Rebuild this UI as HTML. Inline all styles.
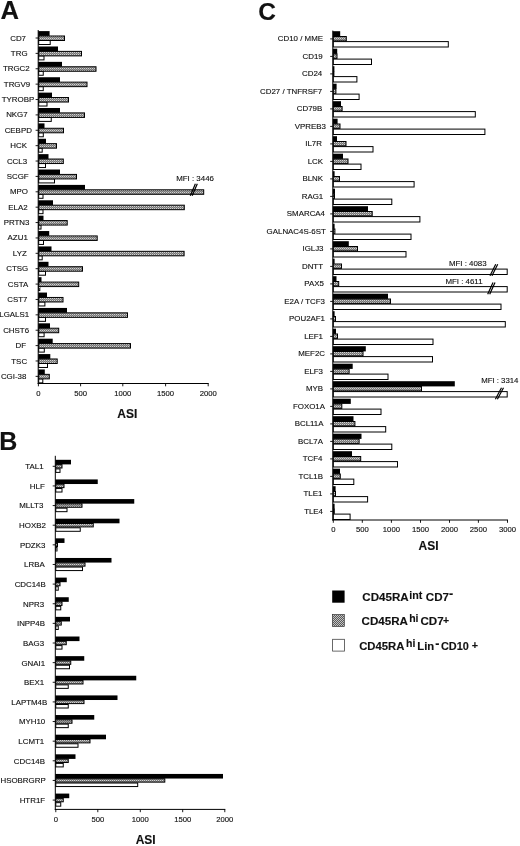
<!DOCTYPE html>
<html lang="en"><head><meta charset="utf-8"><title>Figure</title>
<style>
html,body{margin:0;padding:0;background:#fff;}
body{width:520px;height:846px;overflow:hidden;}
svg{display:block;font-family:'Liberation Sans', sans-serif;fill:#111;}
text{stroke:#111;stroke-width:0.13px;}
</style></head><body>
<svg width="520" height="846" viewBox="0 0 520 846">
<rect x="0" y="0" width="520" height="846" fill="#fff"/>
<defs><pattern id="gp" width="2" height="2" patternUnits="userSpaceOnUse"><rect width="2" height="2" fill="#767676"/><rect x="0" y="0" width="1" height="1" fill="#d2d2d2"/><rect x="1" y="1" width="1" height="1" fill="#9e9e9e"/></pattern><pattern id="gl" width="2" height="2" patternUnits="userSpaceOnUse"><rect width="2" height="2" fill="#5a5a5a"/><rect x="0" y="0" width="1" height="1" fill="#c4c4c4"/><rect x="1" y="1" width="1" height="1" fill="#c4c4c4"/></pattern></defs>
<text x="0.60" y="19.40" font-size="25.6" text-anchor="start" font-weight="bold">A</text>
<text x="-0.80" y="450.20" font-size="25" text-anchor="start" font-weight="bold">B</text>
<text x="258.30" y="19.65" font-size="24.5" text-anchor="start" font-weight="bold">C</text>
<rect x="38.70" y="40.50" width="11.50" height="4.00" fill="#fff" stroke="#000" stroke-width="1.0"/>
<rect x="38.70" y="36.00" width="25.80" height="4.50" fill="url(#gp)" stroke="#000" stroke-width="1.0"/>
<rect x="38.20" y="31.10" width="11.40" height="4.80" fill="#000"/>
<line x1="35.60" y1="38.00" x2="38.20" y2="38.00" stroke="#000" stroke-width="0.9"/>
<text x="18.10" y="40.55" font-size="7.9" text-anchor="middle">CD7</text>
<rect x="38.70" y="55.88" width="5.30" height="4.00" fill="#fff" stroke="#000" stroke-width="1.0"/>
<rect x="38.70" y="51.38" width="42.80" height="4.50" fill="url(#gp)" stroke="#000" stroke-width="1.0"/>
<rect x="38.20" y="46.48" width="19.80" height="4.80" fill="#000"/>
<line x1="35.60" y1="53.38" x2="38.20" y2="53.38" stroke="#000" stroke-width="0.9"/>
<text x="19.20" y="55.93" font-size="7.9" text-anchor="middle">TRG</text>
<rect x="38.70" y="71.26" width="4.55" height="4.00" fill="#fff" stroke="#000" stroke-width="1.0"/>
<rect x="38.70" y="66.76" width="57.30" height="4.50" fill="url(#gp)" stroke="#000" stroke-width="1.0"/>
<rect x="38.20" y="61.86" width="23.80" height="4.80" fill="#000"/>
<line x1="35.60" y1="68.76" x2="38.20" y2="68.76" stroke="#000" stroke-width="0.9"/>
<text x="16.25" y="71.31" font-size="7.9" text-anchor="middle">TRGC2</text>
<rect x="38.70" y="86.64" width="4.55" height="4.00" fill="#fff" stroke="#000" stroke-width="1.0"/>
<rect x="38.70" y="82.14" width="48.30" height="4.50" fill="url(#gp)" stroke="#000" stroke-width="1.0"/>
<rect x="38.20" y="77.24" width="21.80" height="4.80" fill="#000"/>
<line x1="35.60" y1="84.14" x2="38.20" y2="84.14" stroke="#000" stroke-width="0.9"/>
<text x="17.00" y="86.69" font-size="7.9" text-anchor="middle">TRGV9</text>
<rect x="38.70" y="102.02" width="8.30" height="4.00" fill="#fff" stroke="#000" stroke-width="1.0"/>
<rect x="38.70" y="97.52" width="29.80" height="4.50" fill="url(#gp)" stroke="#000" stroke-width="1.0"/>
<rect x="38.20" y="92.62" width="13.80" height="4.80" fill="#000"/>
<line x1="35.60" y1="99.52" x2="38.20" y2="99.52" stroke="#000" stroke-width="0.9"/>
<text x="18.00" y="102.07" font-size="7.9" text-anchor="middle">TYROBP</text>
<rect x="38.70" y="117.40" width="12.55" height="4.00" fill="#fff" stroke="#000" stroke-width="1.0"/>
<rect x="38.70" y="112.90" width="45.80" height="4.50" fill="url(#gp)" stroke="#000" stroke-width="1.0"/>
<rect x="38.20" y="108.00" width="21.80" height="4.80" fill="#000"/>
<line x1="35.60" y1="114.90" x2="38.20" y2="114.90" stroke="#000" stroke-width="0.9"/>
<text x="16.90" y="117.45" font-size="7.9" text-anchor="middle">NKG7</text>
<rect x="38.70" y="132.78" width="4.60" height="4.00" fill="#fff" stroke="#000" stroke-width="1.0"/>
<rect x="38.70" y="128.28" width="24.80" height="4.50" fill="url(#gp)" stroke="#000" stroke-width="1.0"/>
<rect x="38.20" y="123.38" width="6.30" height="4.80" fill="#000"/>
<line x1="35.60" y1="130.28" x2="38.20" y2="130.28" stroke="#000" stroke-width="0.9"/>
<text x="18.25" y="132.83" font-size="7.9" text-anchor="middle">CEBPD</text>
<rect x="38.70" y="148.16" width="3.50" height="4.00" fill="#fff" stroke="#000" stroke-width="1.0"/>
<rect x="38.70" y="143.66" width="17.80" height="4.50" fill="url(#gp)" stroke="#000" stroke-width="1.0"/>
<rect x="38.20" y="138.76" width="7.80" height="4.80" fill="#000"/>
<line x1="35.60" y1="145.66" x2="38.20" y2="145.66" stroke="#000" stroke-width="0.9"/>
<text x="18.60" y="148.21" font-size="7.9" text-anchor="middle">HCK</text>
<rect x="38.70" y="163.54" width="6.80" height="4.00" fill="#fff" stroke="#000" stroke-width="1.0"/>
<rect x="38.70" y="159.04" width="24.60" height="4.50" fill="url(#gp)" stroke="#000" stroke-width="1.0"/>
<rect x="38.20" y="154.14" width="10.30" height="4.80" fill="#000"/>
<line x1="35.60" y1="161.04" x2="38.20" y2="161.04" stroke="#000" stroke-width="0.9"/>
<text x="17.00" y="163.59" font-size="7.9" text-anchor="middle">CCL3</text>
<rect x="38.70" y="178.92" width="15.80" height="4.00" fill="#fff" stroke="#000" stroke-width="1.0"/>
<rect x="38.70" y="174.42" width="37.80" height="4.50" fill="url(#gp)" stroke="#000" stroke-width="1.0"/>
<rect x="38.20" y="169.52" width="21.80" height="4.80" fill="#000"/>
<line x1="35.60" y1="176.42" x2="38.20" y2="176.42" stroke="#000" stroke-width="0.9"/>
<text x="17.70" y="178.97" font-size="7.9" text-anchor="middle">SCGF</text>
<rect x="38.70" y="194.30" width="4.30" height="4.00" fill="#fff" stroke="#000" stroke-width="1.0"/>
<rect x="38.70" y="189.80" width="165.00" height="4.50" fill="url(#gp)" stroke="#000" stroke-width="1.0"/>
<rect x="38.20" y="184.90" width="46.80" height="4.80" fill="#000"/>
<line x1="35.60" y1="191.80" x2="38.20" y2="191.80" stroke="#000" stroke-width="0.9"/>
<text x="19.00" y="194.35" font-size="7.9" text-anchor="middle">MPO</text>
<rect x="38.70" y="209.68" width="4.30" height="4.00" fill="#fff" stroke="#000" stroke-width="1.0"/>
<rect x="38.70" y="205.18" width="145.60" height="4.50" fill="url(#gp)" stroke="#000" stroke-width="1.0"/>
<rect x="38.20" y="200.28" width="14.80" height="4.80" fill="#000"/>
<line x1="35.60" y1="207.18" x2="38.20" y2="207.18" stroke="#000" stroke-width="0.9"/>
<text x="18.00" y="209.73" font-size="7.9" text-anchor="middle">ELA2</text>
<rect x="38.70" y="225.06" width="2.30" height="4.00" fill="#fff" stroke="#000" stroke-width="1.0"/>
<rect x="38.70" y="220.56" width="28.50" height="4.50" fill="url(#gp)" stroke="#000" stroke-width="1.0"/>
<rect x="38.20" y="215.66" width="5.30" height="4.80" fill="#000"/>
<line x1="35.60" y1="222.56" x2="38.20" y2="222.56" stroke="#000" stroke-width="0.9"/>
<text x="16.60" y="225.11" font-size="7.9" text-anchor="middle">PRTN3</text>
<rect x="38.70" y="240.44" width="4.80" height="4.00" fill="#fff" stroke="#000" stroke-width="1.0"/>
<rect x="38.70" y="235.94" width="58.50" height="4.50" fill="url(#gp)" stroke="#000" stroke-width="1.0"/>
<rect x="38.20" y="231.04" width="11.00" height="4.80" fill="#000"/>
<line x1="35.60" y1="237.94" x2="38.20" y2="237.94" stroke="#000" stroke-width="0.9"/>
<text x="17.70" y="240.49" font-size="7.9" text-anchor="middle">AZU1</text>
<rect x="38.70" y="255.82" width="3.50" height="4.00" fill="#fff" stroke="#000" stroke-width="1.0"/>
<rect x="38.70" y="251.32" width="145.40" height="4.50" fill="url(#gp)" stroke="#000" stroke-width="1.0"/>
<rect x="38.20" y="246.42" width="13.30" height="4.80" fill="#000"/>
<line x1="35.60" y1="253.32" x2="38.20" y2="253.32" stroke="#000" stroke-width="0.9"/>
<text x="19.80" y="255.87" font-size="7.9" text-anchor="middle">LYZ</text>
<rect x="38.70" y="271.20" width="6.80" height="4.00" fill="#fff" stroke="#000" stroke-width="1.0"/>
<rect x="38.70" y="266.70" width="43.80" height="4.50" fill="url(#gp)" stroke="#000" stroke-width="1.0"/>
<rect x="38.20" y="261.80" width="10.30" height="4.80" fill="#000"/>
<line x1="35.60" y1="268.70" x2="38.20" y2="268.70" stroke="#000" stroke-width="0.9"/>
<text x="17.30" y="271.25" font-size="7.9" text-anchor="middle">CTSG</text>
<rect x="38.70" y="286.58" width="1.10" height="4.00" fill="#fff" stroke="#000" stroke-width="1.0"/>
<rect x="38.70" y="282.08" width="40.00" height="4.50" fill="url(#gp)" stroke="#000" stroke-width="1.0"/>
<rect x="38.20" y="277.18" width="3.30" height="4.80" fill="#000"/>
<line x1="35.60" y1="284.08" x2="38.20" y2="284.08" stroke="#000" stroke-width="0.9"/>
<text x="18.10" y="286.63" font-size="7.9" text-anchor="middle">CSTA</text>
<rect x="38.70" y="301.96" width="6.20" height="4.00" fill="#fff" stroke="#000" stroke-width="1.0"/>
<rect x="38.70" y="297.46" width="24.30" height="4.50" fill="url(#gp)" stroke="#000" stroke-width="1.0"/>
<rect x="38.20" y="292.56" width="8.80" height="4.80" fill="#000"/>
<line x1="35.60" y1="299.46" x2="38.20" y2="299.46" stroke="#000" stroke-width="0.9"/>
<text x="17.30" y="302.01" font-size="7.9" text-anchor="middle">CST7</text>
<rect x="38.70" y="317.34" width="6.80" height="4.00" fill="#fff" stroke="#000" stroke-width="1.0"/>
<rect x="38.70" y="312.84" width="88.80" height="4.50" fill="url(#gp)" stroke="#000" stroke-width="1.0"/>
<rect x="38.20" y="307.94" width="28.80" height="4.80" fill="#000"/>
<line x1="35.60" y1="314.84" x2="38.20" y2="314.84" stroke="#000" stroke-width="0.9"/>
<text x="14.25" y="317.39" font-size="7.9" text-anchor="middle">LGALS1</text>
<rect x="38.70" y="332.72" width="5.40" height="4.00" fill="#fff" stroke="#000" stroke-width="1.0"/>
<rect x="38.70" y="328.22" width="20.00" height="4.50" fill="url(#gp)" stroke="#000" stroke-width="1.0"/>
<rect x="38.20" y="323.32" width="11.80" height="4.80" fill="#000"/>
<line x1="35.60" y1="330.22" x2="38.20" y2="330.22" stroke="#000" stroke-width="0.9"/>
<text x="16.10" y="332.77" font-size="7.9" text-anchor="middle">CHST6</text>
<rect x="38.70" y="348.10" width="5.60" height="4.00" fill="#fff" stroke="#000" stroke-width="1.0"/>
<rect x="38.70" y="343.60" width="91.80" height="4.50" fill="url(#gp)" stroke="#000" stroke-width="1.0"/>
<rect x="38.20" y="338.70" width="14.50" height="4.80" fill="#000"/>
<line x1="35.60" y1="345.60" x2="38.20" y2="345.60" stroke="#000" stroke-width="0.9"/>
<text x="20.80" y="348.15" font-size="7.9" text-anchor="middle">DF</text>
<rect x="38.70" y="363.48" width="8.80" height="4.00" fill="#fff" stroke="#000" stroke-width="1.0"/>
<rect x="38.70" y="358.98" width="18.50" height="4.50" fill="url(#gp)" stroke="#000" stroke-width="1.0"/>
<rect x="38.20" y="354.08" width="12.10" height="4.80" fill="#000"/>
<line x1="35.60" y1="360.98" x2="38.20" y2="360.98" stroke="#000" stroke-width="0.9"/>
<text x="19.20" y="363.53" font-size="7.9" text-anchor="middle">TSC</text>
<rect x="38.70" y="378.86" width="4.10" height="4.00" fill="#fff" stroke="#000" stroke-width="1.0"/>
<rect x="38.70" y="374.36" width="10.60" height="4.50" fill="url(#gp)" stroke="#000" stroke-width="1.0"/>
<rect x="38.20" y="369.46" width="6.60" height="4.80" fill="#000"/>
<line x1="35.60" y1="376.36" x2="38.20" y2="376.36" stroke="#000" stroke-width="0.9"/>
<text x="13.60" y="378.91" font-size="7.9" text-anchor="middle">CGI-38</text>
<line x1="38.20" y1="30.00" x2="38.20" y2="384.00" stroke="#000" stroke-width="1.0"/>
<line x1="37.70" y1="383.50" x2="208.70" y2="383.50" stroke="#000" stroke-width="1.0"/>
<line x1="38.40" y1="383.50" x2="38.40" y2="386.30" stroke="#000" stroke-width="0.9"/>
<text x="38.40" y="395.50" font-size="7.7" text-anchor="middle">0</text>
<line x1="80.60" y1="383.50" x2="80.60" y2="386.30" stroke="#000" stroke-width="0.9"/>
<text x="80.60" y="395.50" font-size="7.7" text-anchor="middle">500</text>
<line x1="122.80" y1="383.50" x2="122.80" y2="386.30" stroke="#000" stroke-width="0.9"/>
<text x="122.80" y="395.50" font-size="7.7" text-anchor="middle">1000</text>
<line x1="165.60" y1="383.50" x2="165.60" y2="386.30" stroke="#000" stroke-width="0.9"/>
<text x="165.60" y="395.50" font-size="7.7" text-anchor="middle">1500</text>
<line x1="208.20" y1="383.50" x2="208.20" y2="386.30" stroke="#000" stroke-width="0.9"/>
<text x="208.20" y="395.50" font-size="7.7" text-anchor="middle">2000</text>
<text x="127.30" y="418.00" font-size="12" text-anchor="middle" font-weight="bold">ASI</text>
<rect x="55.80" y="468.90" width="4.20" height="3.50" fill="#fff" stroke="#000" stroke-width="1.0"/>
<rect x="55.80" y="464.60" width="6.20" height="3.40" fill="url(#gp)" stroke="#000" stroke-width="1.0"/>
<rect x="55.30" y="459.80" width="15.70" height="4.60" fill="#000"/>
<line x1="52.70" y1="466.30" x2="55.30" y2="466.30" stroke="#000" stroke-width="0.9"/>
<text x="34.40" y="469.20" font-size="7.9" text-anchor="middle">TAL1</text>
<rect x="55.80" y="488.53" width="6.20" height="3.50" fill="#fff" stroke="#000" stroke-width="1.0"/>
<rect x="55.80" y="484.23" width="8.20" height="3.40" fill="url(#gp)" stroke="#000" stroke-width="1.0"/>
<rect x="55.30" y="479.43" width="42.45" height="4.60" fill="#000"/>
<line x1="52.70" y1="485.93" x2="55.30" y2="485.93" stroke="#000" stroke-width="0.9"/>
<text x="37.30" y="488.83" font-size="7.9" text-anchor="middle">HLF</text>
<rect x="55.80" y="508.17" width="11.20" height="3.50" fill="#fff" stroke="#000" stroke-width="1.0"/>
<rect x="55.80" y="503.87" width="26.20" height="3.40" fill="url(#gp)" stroke="#000" stroke-width="1.0"/>
<rect x="55.30" y="499.07" width="78.95" height="4.60" fill="#000"/>
<line x1="52.70" y1="505.57" x2="55.30" y2="505.57" stroke="#000" stroke-width="0.9"/>
<text x="31.30" y="508.47" font-size="7.9" text-anchor="middle">MLLT3</text>
<rect x="55.80" y="527.80" width="24.45" height="3.50" fill="#fff" stroke="#000" stroke-width="1.0"/>
<rect x="55.80" y="523.50" width="37.45" height="3.40" fill="url(#gp)" stroke="#000" stroke-width="1.0"/>
<rect x="55.30" y="518.70" width="64.20" height="4.60" fill="#000"/>
<line x1="52.70" y1="525.20" x2="55.30" y2="525.20" stroke="#000" stroke-width="0.9"/>
<text x="32.50" y="528.10" font-size="7.9" text-anchor="middle">HOXB2</text>
<rect x="55.80" y="547.44" width="1.20" height="3.50" fill="#fff" stroke="#000" stroke-width="1.0"/>
<rect x="55.80" y="543.14" width="1.70" height="3.40" fill="url(#gp)" stroke="#000" stroke-width="1.0"/>
<rect x="55.30" y="538.34" width="9.20" height="4.60" fill="#000"/>
<line x1="52.70" y1="544.84" x2="55.30" y2="544.84" stroke="#000" stroke-width="0.9"/>
<text x="32.60" y="547.74" font-size="7.9" text-anchor="middle">PDZK3</text>
<rect x="55.80" y="567.07" width="26.70" height="3.50" fill="#fff" stroke="#000" stroke-width="1.0"/>
<rect x="55.80" y="562.77" width="29.20" height="3.40" fill="url(#gp)" stroke="#000" stroke-width="1.0"/>
<rect x="55.30" y="557.97" width="56.20" height="4.60" fill="#000"/>
<line x1="52.70" y1="564.47" x2="55.30" y2="564.47" stroke="#000" stroke-width="0.9"/>
<text x="34.40" y="567.37" font-size="7.9" text-anchor="middle">LRBA</text>
<rect x="55.80" y="586.70" width="2.45" height="3.50" fill="#fff" stroke="#000" stroke-width="1.0"/>
<rect x="55.80" y="582.40" width="4.20" height="3.40" fill="url(#gp)" stroke="#000" stroke-width="1.0"/>
<rect x="55.30" y="577.60" width="11.45" height="4.60" fill="#000"/>
<line x1="52.70" y1="584.10" x2="55.30" y2="584.10" stroke="#000" stroke-width="0.9"/>
<text x="30.20" y="587.00" font-size="7.9" text-anchor="middle">CDC14B</text>
<rect x="55.80" y="606.34" width="4.95" height="3.50" fill="#fff" stroke="#000" stroke-width="1.0"/>
<rect x="55.80" y="602.04" width="6.20" height="3.40" fill="url(#gp)" stroke="#000" stroke-width="1.0"/>
<rect x="55.30" y="597.24" width="13.45" height="4.60" fill="#000"/>
<line x1="52.70" y1="603.74" x2="55.30" y2="603.74" stroke="#000" stroke-width="0.9"/>
<text x="33.60" y="606.64" font-size="7.9" text-anchor="middle">NPR3</text>
<rect x="55.80" y="625.97" width="2.45" height="3.50" fill="#fff" stroke="#000" stroke-width="1.0"/>
<rect x="55.80" y="621.67" width="5.45" height="3.40" fill="url(#gp)" stroke="#000" stroke-width="1.0"/>
<rect x="55.30" y="616.87" width="14.70" height="4.60" fill="#000"/>
<line x1="52.70" y1="623.37" x2="55.30" y2="623.37" stroke="#000" stroke-width="0.9"/>
<text x="31.00" y="626.27" font-size="7.9" text-anchor="middle">INPP4B</text>
<rect x="55.80" y="645.61" width="6.20" height="3.50" fill="#fff" stroke="#000" stroke-width="1.0"/>
<rect x="55.80" y="641.31" width="10.45" height="3.40" fill="url(#gp)" stroke="#000" stroke-width="1.0"/>
<rect x="55.30" y="636.51" width="24.20" height="4.60" fill="#000"/>
<line x1="52.70" y1="643.01" x2="55.30" y2="643.01" stroke="#000" stroke-width="0.9"/>
<text x="33.60" y="645.91" font-size="7.9" text-anchor="middle">BAG3</text>
<rect x="55.80" y="665.24" width="13.70" height="3.50" fill="#fff" stroke="#000" stroke-width="1.0"/>
<rect x="55.80" y="660.94" width="14.95" height="3.40" fill="url(#gp)" stroke="#000" stroke-width="1.0"/>
<rect x="55.30" y="656.14" width="28.95" height="4.60" fill="#000"/>
<line x1="52.70" y1="662.64" x2="55.30" y2="662.64" stroke="#000" stroke-width="0.9"/>
<text x="33.30" y="665.54" font-size="7.9" text-anchor="middle">GNAI1</text>
<rect x="55.80" y="684.87" width="12.45" height="3.50" fill="#fff" stroke="#000" stroke-width="1.0"/>
<rect x="55.80" y="680.57" width="27.20" height="3.40" fill="url(#gp)" stroke="#000" stroke-width="1.0"/>
<rect x="55.30" y="675.77" width="80.95" height="4.60" fill="#000"/>
<line x1="52.70" y1="682.27" x2="55.30" y2="682.27" stroke="#000" stroke-width="0.9"/>
<text x="34.00" y="685.17" font-size="7.9" text-anchor="middle">BEX1</text>
<rect x="55.80" y="704.51" width="12.45" height="3.50" fill="#fff" stroke="#000" stroke-width="1.0"/>
<rect x="55.80" y="700.21" width="28.20" height="3.40" fill="url(#gp)" stroke="#000" stroke-width="1.0"/>
<rect x="55.30" y="695.41" width="62.20" height="4.60" fill="#000"/>
<line x1="52.70" y1="701.91" x2="55.30" y2="701.91" stroke="#000" stroke-width="0.9"/>
<text x="29.25" y="704.81" font-size="7.9" text-anchor="middle">LAPTM4B</text>
<rect x="55.80" y="724.14" width="12.45" height="3.50" fill="#fff" stroke="#000" stroke-width="1.0"/>
<rect x="55.80" y="719.84" width="16.20" height="3.40" fill="url(#gp)" stroke="#000" stroke-width="1.0"/>
<rect x="55.30" y="715.04" width="38.95" height="4.60" fill="#000"/>
<line x1="52.70" y1="721.54" x2="55.30" y2="721.54" stroke="#000" stroke-width="0.9"/>
<text x="32.10" y="724.44" font-size="7.9" text-anchor="middle">MYH10</text>
<rect x="55.80" y="743.78" width="22.20" height="3.50" fill="#fff" stroke="#000" stroke-width="1.0"/>
<rect x="55.80" y="739.48" width="34.20" height="3.40" fill="url(#gp)" stroke="#000" stroke-width="1.0"/>
<rect x="55.30" y="734.68" width="50.70" height="4.60" fill="#000"/>
<line x1="52.70" y1="741.18" x2="55.30" y2="741.18" stroke="#000" stroke-width="0.9"/>
<text x="31.25" y="744.08" font-size="7.9" text-anchor="middle">LCMT1</text>
<rect x="55.80" y="763.41" width="7.45" height="3.50" fill="#fff" stroke="#000" stroke-width="1.0"/>
<rect x="55.80" y="759.11" width="12.45" height="3.40" fill="url(#gp)" stroke="#000" stroke-width="1.0"/>
<rect x="55.30" y="754.31" width="20.20" height="4.60" fill="#000"/>
<line x1="52.70" y1="760.81" x2="55.30" y2="760.81" stroke="#000" stroke-width="0.9"/>
<text x="29.40" y="763.71" font-size="7.9" text-anchor="middle">CDC14B</text>
<rect x="55.80" y="783.04" width="81.90" height="3.50" fill="#fff" stroke="#000" stroke-width="1.0"/>
<rect x="55.80" y="778.74" width="109.00" height="3.40" fill="url(#gp)" stroke="#000" stroke-width="1.0"/>
<rect x="55.30" y="773.94" width="167.70" height="4.60" fill="#000"/>
<line x1="52.70" y1="780.44" x2="55.30" y2="780.44" stroke="#000" stroke-width="0.9"/>
<text x="23.10" y="783.34" font-size="7.9" text-anchor="middle">HSOBRGRP</text>
<rect x="55.80" y="802.68" width="4.95" height="3.50" fill="#fff" stroke="#000" stroke-width="1.0"/>
<rect x="55.80" y="798.38" width="7.45" height="3.40" fill="url(#gp)" stroke="#000" stroke-width="1.0"/>
<rect x="55.30" y="793.58" width="13.95" height="4.60" fill="#000"/>
<line x1="52.70" y1="800.08" x2="55.30" y2="800.08" stroke="#000" stroke-width="0.9"/>
<text x="32.40" y="802.98" font-size="7.9" text-anchor="middle">HTR1F</text>
<line x1="55.30" y1="455.80" x2="55.30" y2="809.90" stroke="#000" stroke-width="1.0"/>
<line x1="54.80" y1="809.40" x2="225.30" y2="809.40" stroke="#000" stroke-width="1.0"/>
<line x1="55.80" y1="809.40" x2="55.80" y2="812.20" stroke="#000" stroke-width="0.9"/>
<text x="55.80" y="821.60" font-size="7.7" text-anchor="middle">0</text>
<line x1="97.80" y1="809.40" x2="97.80" y2="812.20" stroke="#000" stroke-width="0.9"/>
<text x="97.80" y="821.60" font-size="7.7" text-anchor="middle">500</text>
<line x1="140.30" y1="809.40" x2="140.30" y2="812.20" stroke="#000" stroke-width="0.9"/>
<text x="140.30" y="821.60" font-size="7.7" text-anchor="middle">1000</text>
<line x1="182.70" y1="809.40" x2="182.70" y2="812.20" stroke="#000" stroke-width="0.9"/>
<text x="182.70" y="821.60" font-size="7.7" text-anchor="middle">1500</text>
<line x1="224.80" y1="809.40" x2="224.80" y2="812.20" stroke="#000" stroke-width="0.9"/>
<text x="224.80" y="821.60" font-size="7.7" text-anchor="middle">2000</text>
<text x="145.70" y="844.00" font-size="12" text-anchor="middle" font-weight="bold">ASI</text>
<rect x="333.30" y="41.60" width="115.00" height="5.40" fill="#fff" stroke="#000" stroke-width="1.0"/>
<rect x="333.30" y="36.50" width="13.00" height="4.40" fill="url(#gp)" stroke="#000" stroke-width="1.0"/>
<rect x="332.80" y="31.20" width="7.40" height="5.20" fill="#000"/>
<line x1="330.20" y1="38.90" x2="332.80" y2="38.90" stroke="#000" stroke-width="0.9"/>
<text x="323.00" y="41.30" font-size="7.9" text-anchor="end">CD10 / MME</text>
<rect x="333.30" y="59.10" width="38.20" height="5.40" fill="#fff" stroke="#000" stroke-width="1.0"/>
<rect x="333.30" y="54.00" width="3.70" height="4.40" fill="url(#gp)" stroke="#000" stroke-width="1.0"/>
<rect x="332.80" y="48.70" width="4.40" height="5.20" fill="#000"/>
<line x1="330.20" y1="56.40" x2="332.80" y2="56.40" stroke="#000" stroke-width="0.9"/>
<text x="322.70" y="58.80" font-size="7.9" text-anchor="end">CD19</text>
<rect x="333.30" y="76.60" width="23.60" height="5.40" fill="#fff" stroke="#000" stroke-width="1.0"/>
<rect x="333.30" y="71.50" width="0.60" height="4.40" fill="url(#gp)" stroke="#000" stroke-width="1.0"/>
<rect x="332.80" y="66.20" width="1.60" height="5.20" fill="#000"/>
<line x1="330.20" y1="73.90" x2="332.80" y2="73.90" stroke="#000" stroke-width="0.9"/>
<text x="322.20" y="76.30" font-size="7.9" text-anchor="end">CD24</text>
<rect x="333.30" y="94.10" width="25.80" height="5.40" fill="#fff" stroke="#000" stroke-width="1.0"/>
<rect x="333.30" y="89.00" width="2.60" height="4.40" fill="url(#gp)" stroke="#000" stroke-width="1.0"/>
<rect x="332.80" y="83.70" width="3.80" height="5.20" fill="#000"/>
<line x1="330.20" y1="91.40" x2="332.80" y2="91.40" stroke="#000" stroke-width="0.9"/>
<text x="322.20" y="93.80" font-size="7.9" text-anchor="end">CD27 / TNFRSF7</text>
<rect x="333.30" y="111.60" width="142.00" height="5.40" fill="#fff" stroke="#000" stroke-width="1.0"/>
<rect x="333.30" y="106.50" width="8.80" height="4.40" fill="url(#gp)" stroke="#000" stroke-width="1.0"/>
<rect x="332.80" y="101.20" width="8.20" height="5.20" fill="#000"/>
<line x1="330.20" y1="108.90" x2="332.80" y2="108.90" stroke="#000" stroke-width="0.9"/>
<text x="322.20" y="111.30" font-size="7.9" text-anchor="end">CD79B</text>
<rect x="333.30" y="129.10" width="151.60" height="5.40" fill="#fff" stroke="#000" stroke-width="1.0"/>
<rect x="333.30" y="124.00" width="6.70" height="4.40" fill="url(#gp)" stroke="#000" stroke-width="1.0"/>
<rect x="332.80" y="118.70" width="4.80" height="5.20" fill="#000"/>
<line x1="330.20" y1="126.40" x2="332.80" y2="126.40" stroke="#000" stroke-width="0.9"/>
<text x="325.80" y="128.80" font-size="7.9" text-anchor="end">VPREB3</text>
<rect x="333.30" y="146.60" width="39.70" height="5.40" fill="#fff" stroke="#000" stroke-width="1.0"/>
<rect x="333.30" y="141.50" width="12.70" height="4.40" fill="url(#gp)" stroke="#000" stroke-width="1.0"/>
<rect x="332.80" y="136.20" width="4.20" height="5.20" fill="#000"/>
<line x1="330.20" y1="143.90" x2="332.80" y2="143.90" stroke="#000" stroke-width="0.9"/>
<text x="321.90" y="146.30" font-size="7.9" text-anchor="end">IL7R</text>
<rect x="333.30" y="164.10" width="27.70" height="5.40" fill="#fff" stroke="#000" stroke-width="1.0"/>
<rect x="333.30" y="159.00" width="14.70" height="4.40" fill="url(#gp)" stroke="#000" stroke-width="1.0"/>
<rect x="332.80" y="153.70" width="10.20" height="5.20" fill="#000"/>
<line x1="330.20" y1="161.40" x2="332.80" y2="161.40" stroke="#000" stroke-width="0.9"/>
<text x="323.00" y="163.80" font-size="7.9" text-anchor="end">LCK</text>
<rect x="333.30" y="181.60" width="80.80" height="5.40" fill="#fff" stroke="#000" stroke-width="1.0"/>
<rect x="333.30" y="176.50" width="6.20" height="4.40" fill="url(#gp)" stroke="#000" stroke-width="1.0"/>
<rect x="332.80" y="171.20" width="1.80" height="5.20" fill="#000"/>
<line x1="330.20" y1="178.90" x2="332.80" y2="178.90" stroke="#000" stroke-width="0.9"/>
<text x="323.00" y="181.30" font-size="7.9" text-anchor="end">BLNK</text>
<rect x="333.30" y="199.10" width="58.50" height="5.40" fill="#fff" stroke="#000" stroke-width="1.0"/>
<rect x="333.30" y="194.00" width="1.20" height="4.40" fill="url(#gp)" stroke="#000" stroke-width="1.0"/>
<rect x="332.80" y="188.70" width="2.20" height="5.20" fill="#000"/>
<line x1="330.20" y1="196.40" x2="332.80" y2="196.40" stroke="#000" stroke-width="0.9"/>
<text x="323.20" y="198.80" font-size="7.9" text-anchor="end">RAG1</text>
<rect x="333.30" y="216.60" width="86.60" height="5.40" fill="#fff" stroke="#000" stroke-width="1.0"/>
<rect x="333.30" y="211.50" width="38.90" height="4.40" fill="url(#gp)" stroke="#000" stroke-width="1.0"/>
<rect x="332.80" y="206.20" width="35.20" height="5.20" fill="#000"/>
<line x1="330.20" y1="213.90" x2="332.80" y2="213.90" stroke="#000" stroke-width="0.9"/>
<text x="325.00" y="216.30" font-size="7.9" text-anchor="end">SMARCA4</text>
<rect x="333.30" y="234.10" width="77.70" height="5.40" fill="#fff" stroke="#000" stroke-width="1.0"/>
<rect x="333.30" y="229.00" width="1.60" height="4.40" fill="url(#gp)" stroke="#000" stroke-width="1.0"/>
<rect x="332.80" y="223.70" width="1.80" height="5.20" fill="#000"/>
<line x1="330.20" y1="231.40" x2="332.80" y2="231.40" stroke="#000" stroke-width="0.9"/>
<text x="325.80" y="233.80" font-size="7.9" text-anchor="end">GALNAC4S-6ST</text>
<rect x="333.30" y="251.60" width="72.70" height="5.40" fill="#fff" stroke="#000" stroke-width="1.0"/>
<rect x="333.30" y="246.50" width="24.20" height="4.40" fill="url(#gp)" stroke="#000" stroke-width="1.0"/>
<rect x="332.80" y="241.20" width="16.00" height="5.20" fill="#000"/>
<line x1="330.20" y1="248.90" x2="332.80" y2="248.90" stroke="#000" stroke-width="0.9"/>
<text x="323.50" y="251.30" font-size="7.9" text-anchor="end">IGLJ3</text>
<rect x="333.30" y="269.10" width="173.90" height="5.40" fill="#fff" stroke="#000" stroke-width="1.0"/>
<rect x="333.30" y="264.00" width="8.20" height="4.40" fill="url(#gp)" stroke="#000" stroke-width="1.0"/>
<rect x="332.80" y="258.70" width="1.80" height="5.20" fill="#000"/>
<line x1="330.20" y1="266.40" x2="332.80" y2="266.40" stroke="#000" stroke-width="0.9"/>
<text x="323.00" y="268.80" font-size="7.9" text-anchor="end">DNTT</text>
<rect x="333.30" y="286.60" width="173.90" height="5.40" fill="#fff" stroke="#000" stroke-width="1.0"/>
<rect x="333.30" y="281.50" width="5.40" height="4.40" fill="url(#gp)" stroke="#000" stroke-width="1.0"/>
<rect x="332.80" y="276.20" width="3.70" height="5.20" fill="#000"/>
<line x1="330.20" y1="283.90" x2="332.80" y2="283.90" stroke="#000" stroke-width="0.9"/>
<text x="323.80" y="286.30" font-size="7.9" text-anchor="end">PAX5</text>
<rect x="333.30" y="304.10" width="167.70" height="5.40" fill="#fff" stroke="#000" stroke-width="1.0"/>
<rect x="333.30" y="299.00" width="57.20" height="4.40" fill="url(#gp)" stroke="#000" stroke-width="1.0"/>
<rect x="332.80" y="293.70" width="55.20" height="5.20" fill="#000"/>
<line x1="330.20" y1="301.40" x2="332.80" y2="301.40" stroke="#000" stroke-width="0.9"/>
<text x="325.00" y="303.80" font-size="7.9" text-anchor="end">E2A / TCF3</text>
<rect x="333.30" y="321.60" width="172.00" height="5.40" fill="#fff" stroke="#000" stroke-width="1.0"/>
<rect x="333.30" y="316.50" width="2.20" height="4.40" fill="url(#gp)" stroke="#000" stroke-width="1.0"/>
<rect x="332.80" y="311.20" width="1.80" height="5.20" fill="#000"/>
<line x1="330.20" y1="318.90" x2="332.80" y2="318.90" stroke="#000" stroke-width="0.9"/>
<text x="325.00" y="321.30" font-size="7.9" text-anchor="end">POU2AF1</text>
<rect x="333.30" y="339.10" width="99.70" height="5.40" fill="#fff" stroke="#000" stroke-width="1.0"/>
<rect x="333.30" y="334.00" width="4.20" height="4.40" fill="url(#gp)" stroke="#000" stroke-width="1.0"/>
<rect x="332.80" y="328.70" width="3.20" height="5.20" fill="#000"/>
<line x1="330.20" y1="336.40" x2="332.80" y2="336.40" stroke="#000" stroke-width="0.9"/>
<text x="323.00" y="338.80" font-size="7.9" text-anchor="end">LEF1</text>
<rect x="333.30" y="356.60" width="99.20" height="5.40" fill="#fff" stroke="#000" stroke-width="1.0"/>
<rect x="333.30" y="351.50" width="29.70" height="4.40" fill="url(#gp)" stroke="#000" stroke-width="1.0"/>
<rect x="332.80" y="346.20" width="33.00" height="5.20" fill="#000"/>
<line x1="330.20" y1="353.90" x2="332.80" y2="353.90" stroke="#000" stroke-width="0.9"/>
<text x="325.00" y="356.30" font-size="7.9" text-anchor="end">MEF2C</text>
<rect x="333.30" y="374.10" width="54.70" height="5.40" fill="#fff" stroke="#000" stroke-width="1.0"/>
<rect x="333.30" y="369.00" width="15.80" height="4.40" fill="url(#gp)" stroke="#000" stroke-width="1.0"/>
<rect x="332.80" y="363.70" width="19.90" height="5.20" fill="#000"/>
<line x1="330.20" y1="371.40" x2="332.80" y2="371.40" stroke="#000" stroke-width="0.9"/>
<text x="323.00" y="373.80" font-size="7.9" text-anchor="end">ELF3</text>
<rect x="333.30" y="391.60" width="173.90" height="5.40" fill="#fff" stroke="#000" stroke-width="1.0"/>
<rect x="333.30" y="386.50" width="88.20" height="4.40" fill="url(#gp)" stroke="#000" stroke-width="1.0"/>
<rect x="332.80" y="381.20" width="122.00" height="5.20" fill="#000"/>
<line x1="330.20" y1="388.90" x2="332.80" y2="388.90" stroke="#000" stroke-width="0.9"/>
<text x="323.00" y="391.30" font-size="7.9" text-anchor="end">MYB</text>
<rect x="333.30" y="409.10" width="47.70" height="5.40" fill="#fff" stroke="#000" stroke-width="1.0"/>
<rect x="333.30" y="404.00" width="8.50" height="4.40" fill="url(#gp)" stroke="#000" stroke-width="1.0"/>
<rect x="332.80" y="398.70" width="18.00" height="5.20" fill="#000"/>
<line x1="330.20" y1="406.40" x2="332.80" y2="406.40" stroke="#000" stroke-width="0.9"/>
<text x="325.00" y="408.80" font-size="7.9" text-anchor="end">FOXO1A</text>
<rect x="333.30" y="426.60" width="52.40" height="5.40" fill="#fff" stroke="#000" stroke-width="1.0"/>
<rect x="333.30" y="421.50" width="21.60" height="4.40" fill="url(#gp)" stroke="#000" stroke-width="1.0"/>
<rect x="332.80" y="416.20" width="20.70" height="5.20" fill="#000"/>
<line x1="330.20" y1="423.90" x2="332.80" y2="423.90" stroke="#000" stroke-width="0.9"/>
<text x="323.50" y="426.30" font-size="7.9" text-anchor="end">BCL11A</text>
<rect x="333.30" y="444.10" width="58.50" height="5.40" fill="#fff" stroke="#000" stroke-width="1.0"/>
<rect x="333.30" y="439.00" width="25.80" height="4.40" fill="url(#gp)" stroke="#000" stroke-width="1.0"/>
<rect x="332.80" y="433.70" width="28.70" height="5.20" fill="#000"/>
<line x1="330.20" y1="441.40" x2="332.80" y2="441.40" stroke="#000" stroke-width="0.9"/>
<text x="323.00" y="443.80" font-size="7.9" text-anchor="end">BCL7A</text>
<rect x="333.30" y="461.60" width="64.20" height="5.40" fill="#fff" stroke="#000" stroke-width="1.0"/>
<rect x="333.30" y="456.50" width="27.40" height="4.40" fill="url(#gp)" stroke="#000" stroke-width="1.0"/>
<rect x="332.80" y="451.20" width="19.20" height="5.20" fill="#000"/>
<line x1="330.20" y1="458.90" x2="332.80" y2="458.90" stroke="#000" stroke-width="0.9"/>
<text x="322.40" y="461.30" font-size="7.9" text-anchor="end">TCF4</text>
<rect x="333.30" y="479.10" width="20.50" height="5.40" fill="#fff" stroke="#000" stroke-width="1.0"/>
<rect x="333.30" y="474.00" width="7.00" height="4.40" fill="url(#gp)" stroke="#000" stroke-width="1.0"/>
<rect x="332.80" y="468.70" width="7.20" height="5.20" fill="#000"/>
<line x1="330.20" y1="476.40" x2="332.80" y2="476.40" stroke="#000" stroke-width="0.9"/>
<text x="323.00" y="478.80" font-size="7.9" text-anchor="end">TCL1B</text>
<rect x="333.30" y="496.60" width="34.30" height="5.40" fill="#fff" stroke="#000" stroke-width="1.0"/>
<rect x="333.30" y="491.50" width="2.20" height="4.40" fill="url(#gp)" stroke="#000" stroke-width="1.0"/>
<rect x="332.80" y="486.20" width="2.80" height="5.20" fill="#000"/>
<line x1="330.20" y1="493.90" x2="332.80" y2="493.90" stroke="#000" stroke-width="0.9"/>
<text x="322.40" y="496.30" font-size="7.9" text-anchor="end">TLE1</text>
<rect x="333.30" y="514.10" width="16.80" height="5.40" fill="#fff" stroke="#000" stroke-width="1.0"/>
<rect x="333.30" y="509.00" width="1.00" height="4.40" fill="url(#gp)" stroke="#000" stroke-width="1.0"/>
<rect x="332.80" y="503.70" width="1.80" height="5.20" fill="#000"/>
<line x1="330.20" y1="511.40" x2="332.80" y2="511.40" stroke="#000" stroke-width="0.9"/>
<text x="323.00" y="513.80" font-size="7.9" text-anchor="end">TLE4</text>
<line x1="332.80" y1="30.60" x2="332.80" y2="520.50" stroke="#000" stroke-width="1.0"/>
<line x1="332.30" y1="520.00" x2="508.00" y2="520.00" stroke="#000" stroke-width="1.0"/>
<line x1="333.30" y1="520.00" x2="333.30" y2="522.80" stroke="#000" stroke-width="0.9"/>
<text x="333.30" y="532.00" font-size="7.7" text-anchor="middle">0</text>
<line x1="362.30" y1="520.00" x2="362.30" y2="522.80" stroke="#000" stroke-width="0.9"/>
<text x="362.30" y="532.00" font-size="7.7" text-anchor="middle">500</text>
<line x1="391.40" y1="520.00" x2="391.40" y2="522.80" stroke="#000" stroke-width="0.9"/>
<text x="391.40" y="532.00" font-size="7.7" text-anchor="middle">1000</text>
<line x1="420.50" y1="520.00" x2="420.50" y2="522.80" stroke="#000" stroke-width="0.9"/>
<text x="420.50" y="532.00" font-size="7.7" text-anchor="middle">1500</text>
<line x1="449.50" y1="520.00" x2="449.50" y2="522.80" stroke="#000" stroke-width="0.9"/>
<text x="449.50" y="532.00" font-size="7.7" text-anchor="middle">2000</text>
<line x1="478.40" y1="520.00" x2="478.40" y2="522.80" stroke="#000" stroke-width="0.9"/>
<text x="478.40" y="532.00" font-size="7.7" text-anchor="middle">2500</text>
<line x1="507.50" y1="520.00" x2="507.50" y2="522.80" stroke="#000" stroke-width="0.9"/>
<text x="507.50" y="532.00" font-size="7.7" text-anchor="middle">3000</text>
<text x="428.50" y="550.00" font-size="12" text-anchor="middle" font-weight="bold">ASI</text>
<text x="176.20" y="180.90" font-size="7.9" text-anchor="start">MFI : 3446</text>
<text x="448.90" y="265.50" font-size="7.9" text-anchor="start">MFI : 4083</text>
<text x="445.40" y="283.60" font-size="7.9" text-anchor="start">MFI : 4611</text>
<text x="481.20" y="383.00" font-size="7.8" text-anchor="start">MFI : 3314</text>
<line x1="190.30" y1="195.80" x2="195.40" y2="183.80" stroke="#000" stroke-width="1.2"/>
<line x1="192.20" y1="195.80" x2="197.30" y2="183.80" stroke="#000" stroke-width="1.2"/>
<line x1="490.00" y1="275.80" x2="495.70" y2="264.20" stroke="#000" stroke-width="1.2"/>
<line x1="492.00" y1="275.80" x2="497.70" y2="264.20" stroke="#000" stroke-width="1.2"/>
<line x1="487.70" y1="294.30" x2="493.00" y2="282.60" stroke="#000" stroke-width="1.2"/>
<line x1="489.70" y1="294.30" x2="495.00" y2="282.60" stroke="#000" stroke-width="1.2"/>
<line x1="495.40" y1="399.20" x2="501.50" y2="387.80" stroke="#000" stroke-width="1.2"/>
<line x1="497.40" y1="399.20" x2="503.50" y2="387.80" stroke="#000" stroke-width="1.2"/>
<rect x="332.2" y="590.5" width="12.4" height="12.2" fill="#000"/>
<rect x="332.5" y="614.6" width="11.8" height="11.8" fill="url(#gl)" stroke="#333" stroke-width="0.7"/>
<rect x="332.6" y="639.3" width="11.8" height="11.8" fill="#fff" stroke="#444" stroke-width="0.8"/>
<text x="362.30" y="600.50" font-size="11.6" font-weight="bold">CD45RA</text>
<text x="409.20" y="598.90" font-size="10.7" font-weight="bold">int</text>
<text x="425.80" y="600.50" font-size="11.6" font-weight="bold">CD7</text>
<text x="448.90" y="598.30" font-size="12.5" font-weight="bold">-</text>
<text x="361.60" y="624.50" font-size="11.6" font-weight="bold">CD45RA</text>
<text x="409.20" y="621.60" font-size="10.5" font-weight="bold">hi</text>
<text x="420.40" y="624.50" font-size="11.6" font-weight="bold">CD7</text>
<text x="443.00" y="624.00" font-size="10.5" font-weight="bold">+</text>
<text x="359.20" y="650.00" font-size="11.3" font-weight="bold">CD45RA</text>
<text x="406.00" y="647.00" font-size="10.5" font-weight="bold">hi</text>
<text x="417.30" y="650.00" font-size="11.3" font-weight="bold">Lin</text>
<text x="435.30" y="647.60" font-size="12.5" font-weight="bold">-</text>
<text x="441.00" y="650.00" font-size="10.9" font-weight="bold">CD10</text>
<text x="471.70" y="648.60" font-size="10.8" font-weight="bold">+</text>
</svg>
</body></html>
